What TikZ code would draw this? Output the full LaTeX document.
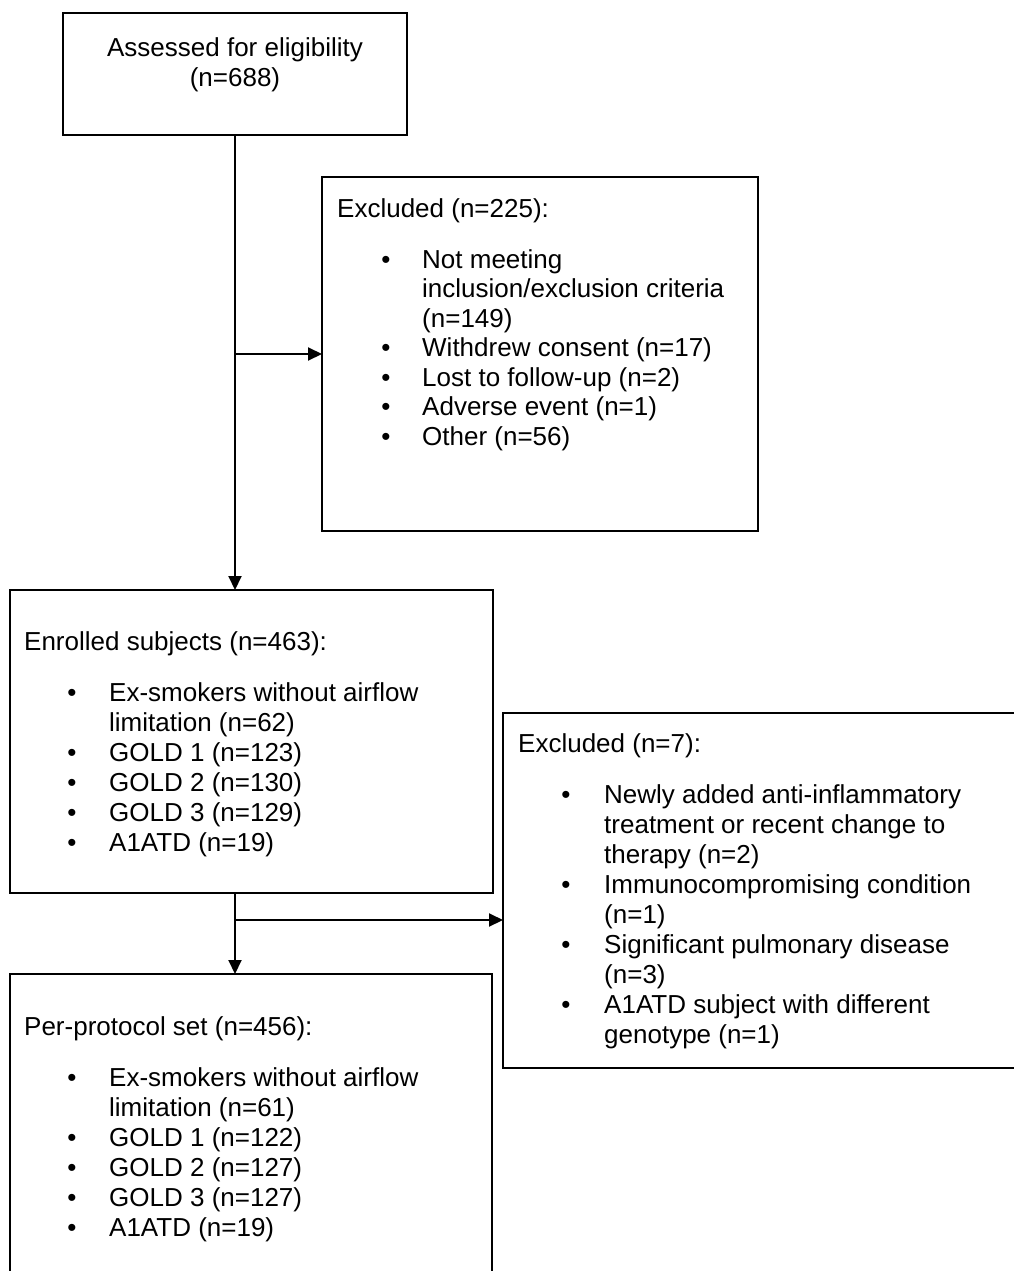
\documentclass[tikz,border=0pt]{standalone}
\usepackage{fontspec}
\setmainfont{Liberation Sans}
\usetikzlibrary{arrows.meta}
\begin{document}
\begin{tikzpicture}[x=1pt,y=-1pt,
  box/.style={draw=black,line width=2pt,anchor=north west,inner sep=0pt,outer sep=0pt,rectangle},
  txt/.style={anchor=base west,inner sep=0pt,font=\fontsize{26pt}{30pt}\selectfont},
  ctxt/.style={anchor=base,inner sep=0pt,font=\fontsize{26pt}{30pt}\selectfont},
  bul/.style={anchor=base,inner sep=0pt,font=\fontsize{26pt}{30pt}\selectfont},
  arr/.style={line width=2pt,-{Triangle[length=14pt,width=13pt]}},
  ln/.style={line width=2pt}]
\useasboundingbox[fill=white] (0,0) rectangle (1014,1271);
% boxes
\node[box,minimum width=344pt,minimum height=122pt] (b1) at (63,13) {};
\node[box,minimum width=436pt,minimum height=354pt] (b2) at (322,177) {};
\node[box,minimum width=483pt,minimum height=303pt] (b3) at (10,590) {};
\node[box,minimum width=530pt,minimum height=355pt] (b4) at (503,713) {};
\node[box,minimum width=482pt,minimum height=330pt] (b5) at (10,974) {};
% box 1 text
\node[ctxt] (t1a) at (235,57) {Assessed for eligibility};
\node[ctxt] (t1b) at (235,87) {(n=688)};
% box 2 text
\node[txt] (t2h) at (337,217) {Excluded (n=225):};
\node[bul] (t2b1) at (386,268) {•};
\node[txt] (t2a) at (422,268) {Not meeting};
\node[txt] (t2a2) at (422,297.5) {inclusion/exclusion criteria};
\node[txt] (t2a3) at (422,327) {(n=149)};
\node[bul] (t2b2) at (386,356.5) {•};
\node[txt] (t2b) at (422,356.5) {Withdrew consent (n=17)};
\node[bul] (t2b3) at (386,386) {•};
\node[txt] (t2c) at (422,386) {Lost to follow-up (n=2)};
\node[bul] (t2b4) at (386,415.5) {•};
\node[txt] (t2d) at (422,415.5) {Adverse event (n=1)};
\node[bul] (t2b5) at (386,445) {•};
\node[txt] (t2e) at (422,445) {Other (n=56)};
% box 3 text
\node[txt] (t3h) at (24,650) {Enrolled subjects (n=463):};
\node[bul] (t3b1) at (72,701) {•};
\node[txt] (t3a) at (109,701) {Ex-smokers without airflow};
\node[txt] (t3a2) at (109,731) {limitation (n=62)};
\node[bul] (t3b2) at (72,761) {•};
\node[txt] (t3b) at (109,761) {GOLD 1 (n=123)};
\node[bul] (t3b3) at (72,791) {•};
\node[txt] (t3c) at (109,791) {GOLD 2 (n=130)};
\node[bul] (t3b4) at (72,821) {•};
\node[txt] (t3d) at (109,821) {GOLD 3 (n=129)};
\node[bul] (t3b5) at (72,851) {•};
\node[txt] (t3e) at (109,851) {A1ATD (n=19)};
% box 4 text
\node[txt] (t4h) at (518,752) {Excluded (n=7):};
\node[bul] (t4b1) at (566,803) {•};
\node[txt] (t4a) at (604,803) {Newly added anti-inflammatory};
\node[txt] (t4a2) at (604,833) {treatment or recent change to};
\node[txt] (t4a3) at (604,863) {therapy (n=2)};
\node[bul] (t4b2) at (566,893) {•};
\node[txt] (t4b) at (604,893) {Immunocompromising condition};
\node[txt] (t4b2x) at (604,923) {(n=1)};
\node[bul] (t4b3) at (566,953) {•};
\node[txt] (t4c) at (604,953) {Significant pulmonary disease};
\node[txt] (t4c2) at (604,983) {(n=3)};
\node[bul] (t4b4) at (566,1013) {•};
\node[txt] (t4d) at (604,1013) {A1ATD subject with different};
\node[txt] (t4d2) at (604,1043) {genotype (n=1)};
% box 5 text
\node[txt] (t5h) at (24,1035) {Per-protocol set (n=456):};
\node[bul] (t5b1) at (72,1086) {•};
\node[txt] (t5a) at (109,1086) {Ex-smokers without airflow};
\node[txt] (t5a2) at (109,1116) {limitation (n=61)};
\node[bul] (t5b2) at (72,1146) {•};
\node[txt] (t5b) at (109,1146) {GOLD 1 (n=122)};
\node[bul] (t5b3) at (72,1176) {•};
\node[txt] (t5c) at (109,1176) {GOLD 2 (n=127)};
\node[bul] (t5b4) at (72,1206) {•};
\node[txt] (t5d) at (109,1206) {GOLD 3 (n=127)};
\node[bul] (t5b5) at (72,1236) {•};
\node[txt] (t5e) at (109,1236) {A1ATD (n=19)};
% connectors
\coordinate (j1) at (b1.south |- b2.west);
\coordinate (j2) at (b1.south |- 0,920);
\draw[arr] (b1.south) -- (b1.south |- b3.north);
\draw[arr] (j1) -- (b2.west);
\draw[ln] (b1.south |- b3.south) -- (j2);
\draw[arr] (j2) -- (b1.south |- b5.north);
\draw[arr] (j2) -- (j2 -| b4.west);
\end{tikzpicture}
\end{document}
